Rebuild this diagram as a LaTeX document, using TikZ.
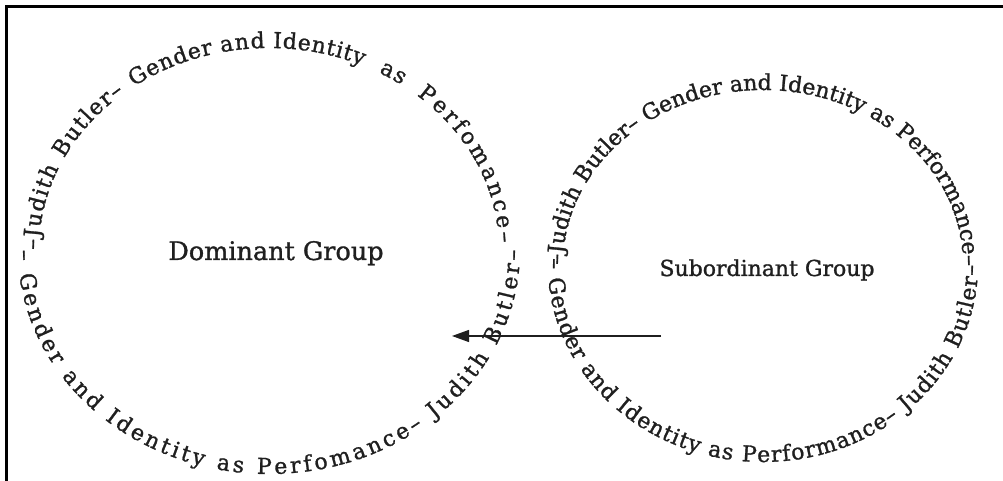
\documentclass[tikz,border=0pt]{standalone}
\usepackage{fontspec}
\setmainfont{DejaVu Serif}
\newfontface\heavyserif{DejaVu Serif}[FakeBold=1.2]
\usetikzlibrary{decorations.text,arrows.meta}
\definecolor{ink}{gray}{0.12}
\tikzset{
  ringtext/.style={decorate, decoration={text along path, text={#1},
      text align={fit to path}, text color=ink}},
  framerule/.style={line width=3pt, draw=black},
  label/.style={text=ink, inner sep=0pt, anchor=base},
  pointer/.style={draw=ink, line width=1.3pt, -{Triangle[length=17pt,width=12pt]}}
}
% inner ellipse of the left ring
\newcommand{\Larc}[3]{\path[ringtext={#1}]
  ([shift={(#2:230pt and 202pt)}]L) arc[start angle=#2, end angle=#3, x radius=230pt, y radius=202pt];}
\begin{document}
\begin{tikzpicture}[x=1pt,y=1pt]
\useasboundingbox (0,0) rectangle (1003,481);
% frame (top and left only)
\coordinate (fTL) at (6,474.5);
\coordinate (fTR) at (1003,474.5);
\coordinate (fBL) at (6,0);
\draw[framerule] (fBL) -- (fTL) -- (fTR);

\coordinate (L) at (269,231);
\coordinate (R) at (763,216);

% left ring
\begin{scope}
\heavyserif\fontsize{22}{22}\selectfont
\Larc{–Judith}{180}{156}
\Larc{Butler–}{153}{129}
\Larc{Gender}{126}{104}
\Larc{and}{102}{91}
\Larc{Identity}{89}{66}
\Larc{as}{61.5}{54.8}
\Larc{Perfomance–}{50}{2}
\path[ringtext={– Gender and Identity as Perfomance– Judith Butler–}]
  ([shift={(180:251pt and 224pt)}]L) arc[start angle=180, end angle=360, x radius=251pt, y radius=224pt];
\end{scope}

% right ring
\begin{scope}
\heavyserif\fontsize{22}{22}\selectfont
\path[ringtext={–Judith Butler– Gender and Identity as Performance–}]
  ([shift={(180:200pt and 175pt)}]R) arc[start angle=180, end angle=0, x radius=200pt, y radius=175pt];
\path[ringtext={– Gender and Identity as Performance– Judith Butler–}]
  ([shift={(178:215pt and 197pt)}]R) arc[start angle=178, end angle=360, x radius=215pt, y radius=197pt];
\end{scope}

% labels
\node[label, font=\heavyserif\fontsize{25.5}{25.5}\selectfont] (dom) at (276,221) {Dominant Group};
\node[label, font=\heavyserif\fontsize{22}{22}\selectfont] (sub) at (767,205) {Subordinant Group};

% arrow
\coordinate (aS) at (661,145);
\coordinate (aE) at (452,145);
\draw[pointer] (aS) -- (aE);
\end{tikzpicture}
\end{document}
